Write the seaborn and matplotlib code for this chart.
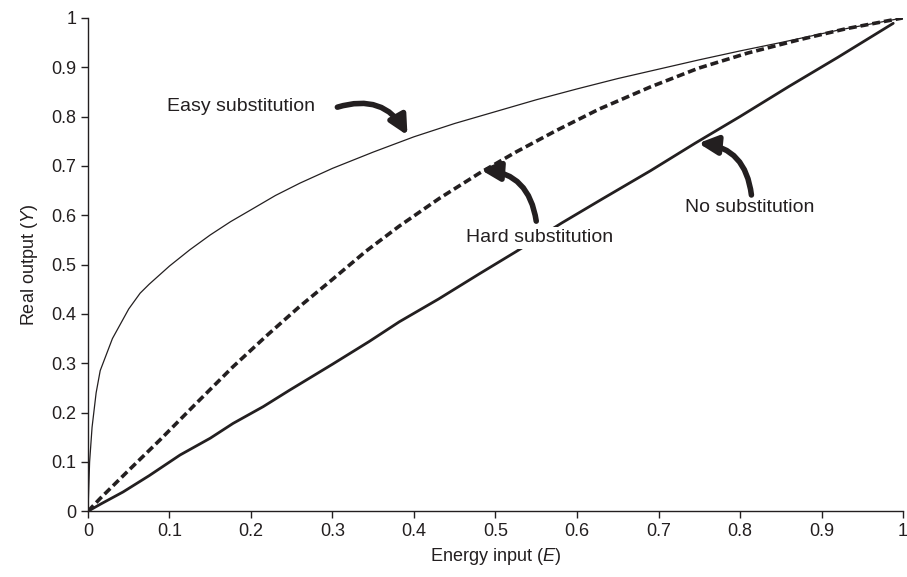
import matplotlib
matplotlib.use('Agg')
import matplotlib.pyplot as plt
import seaborn as sns
import pandas as pd

# values
easy_e = [0, 0.002, 0.005, 0.01, 0.015, 0.03, 0.05, 0.064, 0.075, 0.1, 0.125, 0.15, 0.175, 0.2,
          0.23, 0.26, 0.3, 0.35, 0.4, 0.45, 0.5, 0.55, 0.6, 0.65, 0.7, 0.75, 0.8, 0.85, 0.92, 1.0]
easy_y = [0, 0.10, 0.17, 0.24, 0.285, 0.35, 0.41, 0.442, 0.46, 0.497, 0.53, 0.56, 0.587, 0.611,
          0.64, 0.665, 0.695, 0.728, 0.759, 0.786, 0.81, 0.834, 0.856, 0.877, 0.896, 0.915, 0.933,
          0.95, 0.975, 1.0]

hard_e = [0, 0.015, 0.05, 0.088, 0.13, 0.178, 0.22, 0.259, 0.30, 0.341, 0.382, 0.431, 0.48,
          0.525, 0.575, 0.627, 0.69, 0.749, 0.81, 0.871, 0.93, 1.0]
hard_y = [0, 0.026, 0.083, 0.144, 0.214, 0.293, 0.357, 0.414, 0.47, 0.527, 0.578, 0.634, 0.685,
          0.728, 0.772, 0.815, 0.86, 0.898, 0.929, 0.955, 0.978, 1.0]

none_e = [0, 0.015, 0.043, 0.075, 0.113, 0.15, 0.178, 0.215, 0.247, 0.3, 0.345, 0.382, 0.43,
          0.48, 0.525, 0.581, 0.63, 0.69, 0.745, 0.8, 0.86, 0.92, 0.988]
none_y = [0, 0.014, 0.039, 0.072, 0.114, 0.148, 0.178, 0.212, 0.245, 0.298, 0.344, 0.384, 0.43,
          0.481, 0.526, 0.584, 0.632, 0.69, 0.746, 0.80, 0.861, 0.92, 0.989]

ticks = [0, 0.1, 0.2, 0.3, 0.4, 0.5, 0.6, 0.7, 0.8, 0.9, 1]
tick_labels = ['0', '0.1', '0.2', '0.3', '0.4', '0.5', '0.6', '0.7', '0.8', '0.9', '1']

ink = '#231f20'

sns.set_style("ticks")
plt.rcParams['font.family'] = ['Liberation Sans', 'DejaVu Sans']
plt.rcParams['mathtext.fontset'] = 'custom'
plt.rcParams['mathtext.rm'] = 'Liberation Sans'
plt.rcParams['mathtext.it'] = 'Liberation Sans:italic'

fig = plt.figure(figsize=(9.07, 5.77), dpi=100)
ax = fig.add_axes([0.097, 0.114, 0.8986, 0.855])

easy = pd.DataFrame({'E': easy_e, 'Y': easy_y})
hard = pd.DataFrame({'E': hard_e, 'Y': hard_y})
none = pd.DataFrame({'E': none_e, 'Y': none_y})

sns.lineplot(data=easy, x='E', y='Y', ax=ax, color=ink, lw=0.9, sort=False, estimator=None)
sns.lineplot(data=hard, x='E', y='Y', ax=ax, color=ink, lw=2.6, sort=False, estimator=None)
ax.lines[-1].set_dashes([2.2, 1.1])
sns.lineplot(data=none, x='E', y='Y', ax=ax, color=ink, lw=2.0, sort=False, estimator=None)

ax.set_xlim(0, 1)
ax.set_ylim(0, 1)
ax.set_xticks(ticks)
ax.set_xticklabels(tick_labels)
ax.set_yticks(ticks)
ax.set_yticklabels(tick_labels)
ax.tick_params(labelsize=13, colors=ink, length=5, width=1)
for s in ['left', 'bottom']:
    ax.spines[s].set_color(ink)
    ax.spines[s].set_linewidth(1)
sns.despine(ax=ax)

ax.set_xlabel('Energy input ($\\it{E}$)', fontsize=13, color=ink, labelpad=4)
ax.set_ylabel('Real output ($\\it{Y}$)', fontsize=13, color=ink, labelpad=8)

arrow = dict(arrowstyle='-|>', color=ink, lw=4, mutation_scale=28, shrinkA=0, shrinkB=0)

ax.text(0.188, 0.821, 'Easy substitution', fontsize=14, color=ink, ha='center', va='center')
ax.annotate('', xy=(0.392, 0.762), xytext=(0.306, 0.819),
            arrowprops=dict(arrow, connectionstyle='arc3,rad=-0.4'))

ax.text(0.554, 0.554, 'Hard substitution', fontsize=14, color=ink, ha='center', va='center',
        zorder=5, bbox=dict(facecolor='white', edgecolor='none', pad=2))
ax.annotate('', xy=(0.482, 0.692), xytext=(0.550, 0.588),
            arrowprops=dict(arrow, connectionstyle='arc3,rad=0.4'), zorder=6)

ax.text(0.812, 0.615, 'No substitution', fontsize=14, color=ink, ha='center', va='center')
ax.annotate('', xy=(0.749, 0.746), xytext=(0.814, 0.641),
            arrowprops=dict(arrow, connectionstyle='arc3,rad=0.4'))

fig.savefig('out.png', dpi=100)
